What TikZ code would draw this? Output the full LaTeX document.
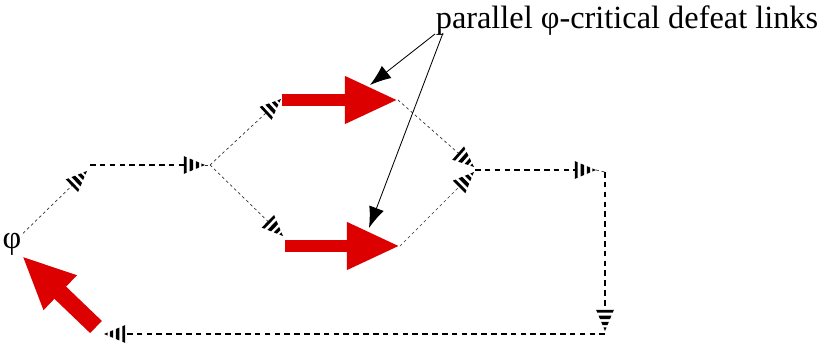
\documentclass[tikz,border=0pt]{standalone}
\usepackage{fontspec}
\setmainfont{Liberation Serif}
\usepackage{tikz}
\usetikzlibrary{arrows.meta}
\definecolor{defeat-red}{RGB}{220,0,0}

% banded cone tip
\pgfdeclarearrow{
  name=Banded,
  setup code={
    \pgfarrowssettipend{0pt}
    \pgfarrowssetbackend{-15pt}
    \pgfarrowssetlineend{-14.6pt}
    \pgfarrowsupperhullpoint{-15pt}{6.3pt}
    \pgfarrowsupperhullpoint{0pt}{0pt}
  },
  drawing code={
    \pgfsetfillcolor{black}
    \foreach \a/\b in {0/0.13,0.27/0.44,0.57/0.72,0.83/1}{
      \pgfmathsetmacro\xa{-15*(1-\a)}
      \pgfmathsetmacro\xb{-15*(1-\b)}
      \pgfmathsetmacro\ha{6.3*(1-\a)}
      \pgfmathsetmacro\hb{6.3*(1-\b)}
      \pgfpathmoveto{\pgfpoint{\xa pt}{\ha pt}}
      \pgfpathlineto{\pgfpoint{\xb pt}{\hb pt}}
      \pgfpathlineto{\pgfpoint{\xb pt}{-\hb pt}}
      \pgfpathlineto{\pgfpoint{\xa pt}{-\ha pt}}
      \pgfpathclose
      \pgfusepathqfill
    }
  },
}

\begin{document}
\begin{tikzpicture}
[
  x=0.025cm, y=-0.025cm,
  thinlink/.style={draw=black!80, line width=0.5pt, dash pattern=on 2pt off 2pt},
  link/.style={thinlink, -Banded},
  thicklink/.style={line width=1.4pt, dash pattern=on 4pt off 3pt, -Banded},
  defeat/.style={draw=defeat-red, fill=defeat-red, line width=9pt, -{Triangle[length=37.7pt,width=31.3pt]}},
  pointer/.style={line width=0.6pt, -{Latex[length=15pt,width=11pt]}},
  lbl/.style={font=\fontsize{23}{26}\selectfont, inner sep=1pt},
]
\useasboundingbox (0,0) rectangle (825,346);

\node[lbl] (phi) at (12,244) {φ};
\node[lbl] (caption) at (627,21) {parallel φ-critical defeat links};

\coordinate (t1) at (87,171);
\coordinate (s1) at (90,165);
\coordinate (t2) at (205,165);
\coordinate (fork) at (210,165);
\coordinate (t3) at (281,99);
\coordinate (t4) at (283,236);
\coordinate (r1s) at (282,100);
\coordinate (r1e) at (398,100);
\coordinate (r2s) at (285,246);
\coordinate (r2e) at (400,246);
\coordinate (t5) at (474,167);
\coordinate (t6) at (474,172);
\coordinate (join) at (475,170);
\coordinate (t7) at (596,170);
\coordinate (corner1) at (605,172);
\coordinate (t8) at (605,331);
\coordinate (corner2) at (605,334);
\coordinate (t9) at (104,334);
\coordinate (r3s) at (96,327);
\coordinate (r3e) at (22,256);
\coordinate (c1) at (435,34);
\coordinate (c2) at (443,33);
\coordinate (h1) at (370,85);
\coordinate (h2) at (369,228);

\draw[link] (phi) -- (t1);
\draw[thicklink] (s1) -- (t2);
\draw[thinlink] (t2) -- (fork);
\draw[link] (fork) -- (t3);
\draw[link] (fork) -- (t4);
\draw[defeat] (r1s) -- (r1e);
\draw[defeat] (r2s) -- (r2e);
\draw[link] (r1e) -- (t5);
\draw[link] (r2e) -- (t6);
\draw[thicklink] (join) -- (t7);
\draw[thinlink] (t7) -- (corner1);
\draw[thicklink] (corner1) -- (t8);
\draw[thicklink] (corner2) -- (t9);
\draw[defeat, line width=12pt] (r3s) -- (r3e);
\draw[pointer] (c1) -- (h1);
\draw[pointer] (c2) -- (h2);
\end{tikzpicture}
\end{document}
